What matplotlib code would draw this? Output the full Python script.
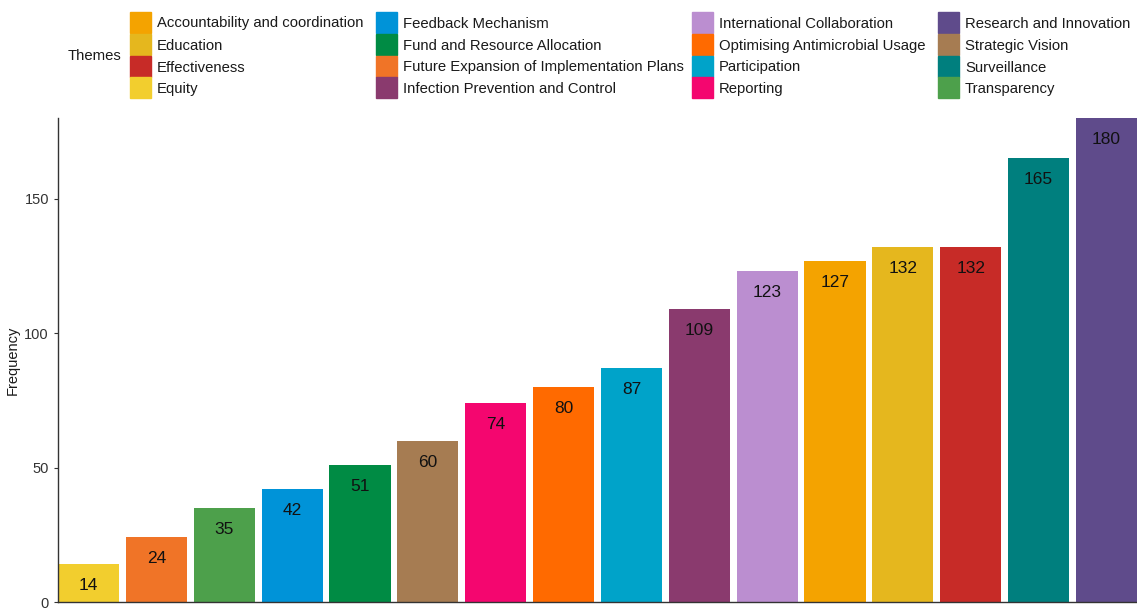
import matplotlib.pyplot as plt
from matplotlib.patches import Rectangle

plt.rcParams['font.family'] = ['Liberation Sans', 'DejaVu Sans']

# bars, in plotted order (ascending)
themes = ['Equity', 'Future Expansion of Implementation Plans', 'Transparency',
          'Feedback Mechanism', 'Fund and Resource Allocation', 'Strategic Vision',
          'Reporting', 'Optimising Antimicrobial Usage', 'Participation',
          'Infection Prevention and Control', 'International Collaboration',
          'Accountability and coordination', 'Education', 'Effectiveness',
          'Surveillance', 'Research and Innovation']
freq = [14, 24, 35, 42, 51, 60, 74, 80, 87, 109, 123, 127, 132, 132, 165, 180]
colors = {
    'Accountability and coordination': '#F4A300',
    'Education': '#E5B71E',
    'Effectiveness': '#C72B27',
    'Equity': '#F2CE2E',
    'Feedback Mechanism': '#0093D8',
    'Fund and Resource Allocation': '#008B44',
    'Future Expansion of Implementation Plans': '#F07427',
    'Infection Prevention and Control': '#8A3A6E',
    'International Collaboration': '#BB8ED0',
    'Optimising Antimicrobial Usage': '#FF6A00',
    'Participation': '#00A3C9',
    'Reporting': '#F4066F',
    'Research and Innovation': '#5F4B8B',
    'Strategic Vision': '#A67C52',
    'Surveillance': '#007F7E',
    'Transparency': '#4DA04B',
}
legend_order = sorted(colors.keys())
yticks = [0, 50, 100, 150]

fig = plt.figure(figsize=(11.37, 6.09), dpi=100)
ax = fig.add_axes([58 / 1137, 7 / 609, 1 - 58 / 1137, (602 - 118) / 609])

x = range(1, len(themes) + 1)
ax.bar(x, freq, width=0.9, color=[colors[t] for t in themes])
for xi, v in zip(x, freq):
    ax.text(xi, v - 8, str(v), ha='center', va='center', fontsize=12.5, color='#111111')

ax.set_xlim(0.55, len(themes) + 0.45)
ax.set_ylim(0, 180)
ax.set_xticks([])
ax.set_yticks(yticks)
ax.tick_params(axis='y', labelsize=10.5, labelcolor='#333333', length=3, color='#333333')
for s in ['top', 'right']:
    ax.spines[s].set_visible(False)
for s in ['left', 'bottom']:
    ax.spines[s].set_color('#333333')
    ax.spines[s].set_linewidth(1.0)
ax.set_ylabel('Frequency', fontsize=10.5, color='#1a1a1a', labelpad=3)

# legend, laid out like ggplot's 4x4 guide
col_x = [130, 376, 692, 938]
row_y = [22, 44.5, 66, 87.5]
W, H = 1137, 609
fig.text(94 / W, 1 - 56 / H, 'Themes', ha='center', va='center', fontsize=10.7, color='#1a1a1a')
for i, name in enumerate(legend_order):
    cx = col_x[i // 4]
    cy = row_y[i % 4]
    fig.patches.append(Rectangle((cx / W, 1 - (cy + 10.5) / H), 21 / W, 21 / H,
                                 transform=fig.transFigure, color=colors[name]))
    fig.text((cx + 27) / W, 1 - (cy + 1.5) / H, name, ha='left', va='center', fontsize=10.7,
             color='#1a1a1a')

fig.savefig('out.png', dpi=100)
